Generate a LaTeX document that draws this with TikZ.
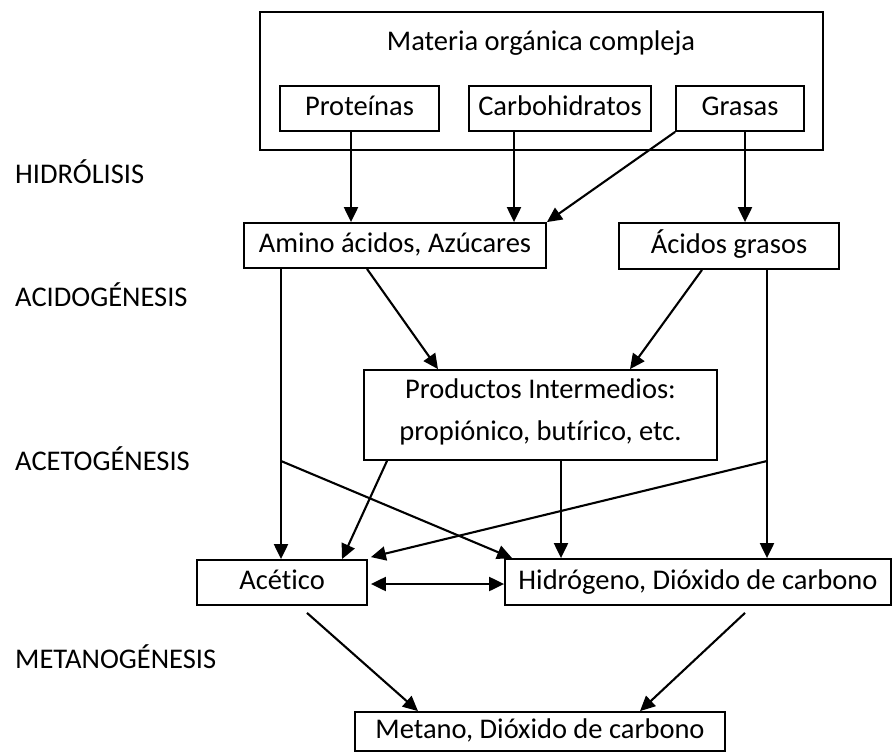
\documentclass[tikz,border=0pt]{standalone}
\usepackage{fontspec}
\setmainfont{Carlito}[Ligatures=NoCommon]
\usetikzlibrary{arrows.meta,calc}
\begin{document}
\begin{tikzpicture}[x=1pt,y=-1pt,
  txt/.style={inner sep=0pt,font=\fontsize{28.5}{42}\selectfont,align=center,text height=21pt,text depth=7pt},
  box/.style={txt,draw,line width=1.8pt},
  lbl/.style={inner sep=0pt,anchor=base west,font=\fontsize{28.5}{34}\selectfont},
  ln/.style={line width=2.1pt},
  arr/.style={ln,-{Triangle[length=15pt,width=14pt]}},
  arrb/.style={ln,{Triangle[length=15pt,width=14pt]}-{Triangle[length=15pt,width=14pt]}}]
\useasboundingbox (0,0) rectangle (892,753);
% boxes
\node[box,minimum width=563,minimum height=138] (outer) at (541.5,81) {};
\node[txt,anchor=base] (title) at (541,50) {Materia orgánica compleja};
\node[box,minimum width=159,minimum height=45] (prot) at (359.5,108.5) {Proteínas};
\node[box,minimum width=182,minimum height=45] (carb) at (560,108.5) {Carbohidratos};
\node[box,minimum width=128,minimum height=45] (gras) at (740,108.5) {Grasas};
\node[box,minimum width=302,minimum height=45] (amino) at (395,245.5) {Amino ácidos, Azúcares};
\node[box,minimum width=220,minimum height=46] (acgr) at (729,246) {Ácidos grasos};
\node[box,text height=,text depth=,minimum width=353,minimum height=90] (prod) at (540.5,415)
  {\rule{0pt}{22pt}Productos Intermedios:\\propiónico, butírico, etc.\rule[-14pt]{0pt}{14pt}};
\node[box,minimum width=170,minimum height=45] (acet) at (282,582.5) {Acético};
\node[box,minimum width=386,minimum height=46] (hidr) at (698,582) {Hidrógeno, Dióxido de carbono};
\node[box,minimum width=370,minimum height=39] (meta) at (540,731.5) {Metano, Dióxido de carbono};
% stage labels
\node[lbl] (l1) at (15,183) {HIDRÓLISIS};
\node[lbl] (l2) at (15,306) {ACIDOGÉNESIS};
\node[lbl] (l3) at (15,470) {ACETOGÉNESIS};
\node[lbl] (l4) at (15,668) {METANOGÉNESIS};
% branch points
\coordinate (c1) at (281,461);
\coordinate (c2) at (767,461);
% connectors
\draw[arr] (prot.south -| 351,0) -- (amino.north -| 351,0);
\draw[arr] (carb.south -| 514,0) -- (amino.north -| 514,0);
\draw[arr] (gras.south west) -- (amino.north east);
\draw[arr] (gras.south -| 745,0) -- (acgr.north -| 745,0);
\draw[arr] (amino.south -| 281,0) -- (acet.north -| 281,0);
\draw[arr] (amino.south -| 367,0) -- (prod.north -| 438,0);
\draw[arr] (acgr.south -| 702,0) -- (prod.north -| 630,0);
\draw[arr] (acgr.south -| 767,0) -- (hidr.north -| 767,0);
\draw[arr] (prod.south -| 387,0) -- (acet.north -| 342,0);
\draw[arr] (prod.south -| 561,0) -- (hidr.north -| 561,0);
\draw[arr] (c1) -- ($(hidr.north west)+(8,0)$);
\draw[arr] (c2) -- ($(acet.north east)+(3,-2)$);
\draw[arrb] ($(acet.east)+(3,1.5)$) -- ($(hidr.west)+(0,2)$);
\draw[arr] ($(acet.south -| 307,0)+(0,7)$) -- (meta.north -| 418,0);
\draw[arr] ($(hidr.south -| 745,0)+(0,7)$) -- (meta.north -| 640,0);
\end{tikzpicture}
\end{document}
